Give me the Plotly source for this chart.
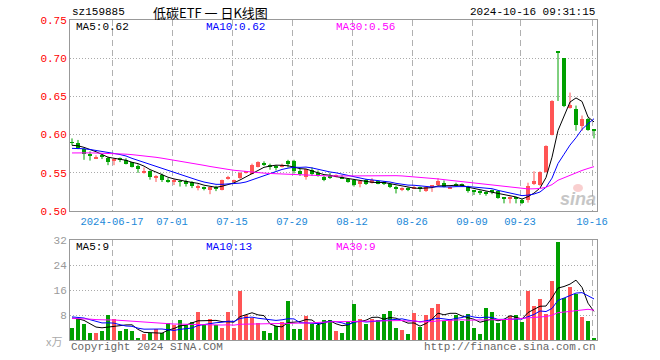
import math
import numpy as np
import pandas as pd
import plotly.graph_objects as go

# ---------------- data ----------------
dates = ["2024-06-05", "2024-06-06", "2024-06-07", "2024-06-11", "2024-06-12", "2024-06-13", "2024-06-14",
         "2024-06-17", "2024-06-18", "2024-06-19", "2024-06-20", "2024-06-21", "2024-06-24", "2024-06-25",
         "2024-06-26", "2024-06-27", "2024-06-28", "2024-07-01", "2024-07-02", "2024-07-03", "2024-07-04",
         "2024-07-05", "2024-07-08", "2024-07-09", "2024-07-10", "2024-07-11", "2024-07-12", "2024-07-15",
         "2024-07-16", "2024-07-17", "2024-07-18", "2024-07-19", "2024-07-22", "2024-07-23", "2024-07-24",
         "2024-07-25", "2024-07-26", "2024-07-29", "2024-07-30", "2024-07-31", "2024-08-01", "2024-08-02",
         "2024-08-05", "2024-08-06", "2024-08-07", "2024-08-08", "2024-08-09", "2024-08-12", "2024-08-13",
         "2024-08-14", "2024-08-15", "2024-08-16", "2024-08-19", "2024-08-20", "2024-08-21", "2024-08-22",
         "2024-08-23", "2024-08-26", "2024-08-27", "2024-08-28", "2024-08-29", "2024-08-30", "2024-09-02",
         "2024-09-03", "2024-09-04", "2024-09-05", "2024-09-06", "2024-09-09", "2024-09-10", "2024-09-11",
         "2024-09-12", "2024-09-13", "2024-09-18", "2024-09-19", "2024-09-20", "2024-09-23", "2024-09-24",
         "2024-09-25", "2024-09-26", "2024-09-27", "2024-09-30", "2024-10-08", "2024-10-09", "2024-10-10",
         "2024-10-11", "2024-10-14", "2024-10-15", "2024-10-16"]

open_ = [0.590, 0.589, 0.581, 0.574, 0.569, 0.572, 0.570, 0.565, 0.568, 0.567,
         0.564, 0.559, 0.551, 0.552, 0.543, 0.547, 0.541, 0.538, 0.539, 0.539,
         0.538, 0.531, 0.530, 0.528, 0.530, 0.528, 0.543, 0.538, 0.543, 0.550,
         0.549, 0.557, 0.562, 0.559, 0.558, 0.558, 0.565, 0.566, 0.553, 0.545,
         0.554, 0.550, 0.544, 0.546, 0.545, 0.545, 0.542, 0.541, 0.535, 0.540,
         0.537, 0.539, 0.538, 0.535, 0.530, 0.527, 0.530, 0.530, 0.530, 0.526,
         0.532, 0.534, 0.537, 0.530, 0.535, 0.535, 0.532, 0.526, 0.525, 0.524,
         0.527, 0.526, 0.517, 0.517, 0.517, 0.515, 0.515, 0.535, 0.534, 0.551,
         0.600, 0.709, 0.700, 0.635, 0.633, 0.611, 0.621, 0.606]
high = [0.595, 0.593, 0.582, 0.578, 0.573, 0.574, 0.571, 0.569, 0.570, 0.569,
        0.564, 0.561, 0.557, 0.553, 0.547, 0.549, 0.543, 0.542, 0.541, 0.541,
        0.539, 0.535, 0.532, 0.532, 0.533, 0.541, 0.546, 0.541, 0.551, 0.552,
        0.562, 0.565, 0.565, 0.562, 0.560, 0.562, 0.567, 0.567, 0.555, 0.555,
        0.557, 0.553, 0.546, 0.550, 0.548, 0.547, 0.543, 0.542, 0.540, 0.542,
        0.543, 0.540, 0.539, 0.536, 0.533, 0.531, 0.531, 0.533, 0.532, 0.532,
        0.534, 0.543, 0.540, 0.532, 0.537, 0.536, 0.533, 0.526, 0.527, 0.526,
        0.528, 0.527, 0.518, 0.519, 0.517, 0.516, 0.537, 0.552, 0.552, 0.586,
        0.645, 0.709, 0.700, 0.655, 0.638, 0.625, 0.622, 0.606]
low = [0.586, 0.581, 0.567, 0.566, 0.568, 0.568, 0.560, 0.560, 0.564, 0.561,
       0.557, 0.550, 0.549, 0.541, 0.538, 0.538, 0.537, 0.534, 0.532, 0.532,
       0.530, 0.527, 0.527, 0.522, 0.526, 0.527, 0.541, 0.537, 0.542, 0.549,
       0.548, 0.557, 0.559, 0.554, 0.553, 0.557, 0.557, 0.549, 0.546, 0.541,
       0.546, 0.545, 0.539, 0.542, 0.544, 0.542, 0.537, 0.532, 0.531, 0.534,
       0.536, 0.535, 0.534, 0.530, 0.523, 0.526, 0.526, 0.529, 0.525, 0.525,
       0.525, 0.533, 0.531, 0.529, 0.532, 0.532, 0.524, 0.521, 0.521, 0.520,
       0.522, 0.516, 0.510, 0.510, 0.510, 0.509, 0.511, 0.534, 0.533, 0.550,
       0.599, 0.644, 0.636, 0.634, 0.605, 0.605, 0.605, 0.595]
close = [0.589, 0.582, 0.575, 0.572, 0.570, 0.571, 0.564, 0.568, 0.567, 0.562,
         0.558, 0.555, 0.552, 0.544, 0.546, 0.540, 0.539, 0.541, 0.538, 0.536,
         0.533, 0.533, 0.529, 0.531, 0.529, 0.540, 0.544, 0.540, 0.550, 0.551,
         0.560, 0.564, 0.561, 0.558, 0.557, 0.559, 0.561, 0.552, 0.548, 0.555,
         0.549, 0.546, 0.540, 0.544, 0.546, 0.543, 0.538, 0.534, 0.539, 0.536,
         0.541, 0.536, 0.535, 0.531, 0.529, 0.530, 0.528, 0.532, 0.529, 0.531,
         0.533, 0.539, 0.532, 0.531, 0.534, 0.533, 0.526, 0.525, 0.524, 0.523,
         0.525, 0.517, 0.516, 0.518, 0.516, 0.511, 0.533, 0.539, 0.551, 0.585,
         0.644, 0.708, 0.637, 0.639, 0.612, 0.621, 0.606, 0.605]
volume = [4.0, 6.7, 5.2, 2.4, 2.4, 2.8, 8.1, 6.8, 2.8, 3.6,
          3.0, 0.8, 2.0, 2.2, 3.5, 2.4, 5.6, 4.7, 6.3, 4.9,
          5.9, 8.9, 4.9, 6.8, 4.9, 4.0, 8.9, 4.0, 15.6, 8.1,
          7.0, 5.5, 2.8, 2.4, 4.4, 5.9, 12.4, 3.4, 3.4, 7.6,
          5.2, 4.9, 6.5, 6.5, 2.8, 2.2, 6.2, 11.6, 6.7, 5.0,
          6.7, 6.5, 8.4, 9.4, 3.9, 3.3, 2.0, 8.7, 4.3, 8.1,
          10.3, 11.6, 6.0, 6.7, 8.1, 6.0, 8.4, 3.9, 2.0, 10.3,
          9.0, 5.5, 6.3, 7.8, 8.1, 5.9, 15.8, 11.0, 13.2, 8.4,
          19.0, 31.5, 13.5, 17.0, 14.8, 7.4, 6.2, 0.4]

# moving-average values shown at the first day (history before the window)
ma_start = {5: 0.586, 10: 0.582, 30: 0.576}
vol_ma_start = {5: 7.0, 10: 7.4, 30: 6.9}

tick_dates = ["2024-06-17", "2024-07-01", "2024-07-15", "2024-07-29", "2024-08-12",
              "2024-08-26", "2024-09-09", "2024-09-23", "2024-10-16"]
price_ticks = [0.50, 0.55, 0.60, 0.65, 0.70, 0.75]
volume_ticks = [8, 16, 24, 32]

code = "sz159885"
name = "低碳ETF 一 日K线图"
stamp = "2024-10-16 09:31:15"

# ---------------- helpers ----------------
RED = "#ff5555"
GREEN = "#00a000"
MONO = "Liberation Mono, DejaVu Sans Mono, monospace"
n = len(dates)
x = np.arange(n)
o = np.array(open_); h = np.array(high); l = np.array(low); c = np.array(close)
v = np.array(volume)


def seeded_ma(vals, win, start):
    vals = list(vals)
    prior = (win * start - vals[0]) / (win - 1)
    ext = pd.Series([prior] * (win - 1) + vals)
    return ext.rolling(win).mean().iloc[win - 1:].to_numpy()


up = c >= o
fig = go.Figure()

# wicks
for mask, col in ((up, RED), (~up, GREEN)):
    wx, wy = [], []
    for i in x[mask]:
        wx += [i, i, None]
        wy += [l[i], h[i], None]
    fig.add_trace(go.Scatter(x=wx, y=wy, mode="lines", line=dict(color=col, width=1),
                             hoverinfo="skip", showlegend=False, xaxis="x", yaxis="y"))

# bodies
body_base = np.minimum(o, c)
body_h = np.maximum(np.abs(c - o), 0.0012)
fig.add_trace(go.Bar(x=x, y=body_h, base=body_base, width=0.8,
                     marker=dict(color=[RED if u else GREEN for u in up], line=dict(width=0)),
                     showlegend=False, xaxis="x", yaxis="y"))

# price MAs
ma_cols = {5: "#000000", 10: "#0000ff", 30: "#ff00ff"}
ma_vals = {}
for win, col in ma_cols.items():
    m = seeded_ma(c, win, ma_start[win])
    ma_vals[win] = m
    fig.add_trace(go.Scatter(x=x, y=m, mode="lines", line=dict(color=col, width=1),
                             showlegend=False, xaxis="x", yaxis="y"))

# volume bars
fig.add_trace(go.Bar(x=x, y=v, width=0.8,
                     marker=dict(color=[RED if u else GREEN for u in up], line=dict(width=0)),
                     showlegend=False, xaxis="x2", yaxis="y2"))
vol_ma = {}
for win, col in ma_cols.items():
    m = seeded_ma(v, win, vol_ma_start[win])
    vol_ma[win] = m
    fig.add_trace(go.Scatter(x=x, y=m, mode="lines", line=dict(color=col, width=1),
                             showlegend=False, xaxis="x2", yaxis="y2"))

tickpos = [dates.index(d) - 1 / 3 for d in tick_dates]
ticktext = [tick_dates[0]] + [d[5:] for d in tick_dates[1:]]

common_x = dict(range=[-1 / 3, n - 0.5], showline=True, mirror=True, linecolor="#999999",
                linewidth=1, tickmode="array", tickvals=tickpos, showgrid=True,
                gridcolor="#b0b0b0", griddash="6px,4px", gridwidth=1, ticks="", zeroline=False)

fig.update_layout(
    width=660, height=360,
    margin=dict(l=70, r=63, t=20, b=20),
    paper_bgcolor="white", plot_bgcolor="white",
    bargap=0, showlegend=False,
    xaxis=dict(**common_x, anchor="y", ticktext=ticktext,
               tickfont=dict(family=MONO, size=10.5, color="#1a88d8")),
    xaxis2=dict(**common_x, anchor="y2", matches="x", showticklabels=False),
    yaxis=dict(domain=[129 / 320, 1], range=[0.5, 0.75], showline=True, mirror=True,
               linecolor="#999999", linewidth=1, tickmode="array", tickvals=price_ticks,
               ticktext=[f"{t:.2f}" for t in price_ticks], ticks="",
               tickfont=dict(family=MONO, size=11, color="#ff0000"),
               showgrid=True, gridcolor="#aaaaaa", griddash="1px,2px", zeroline=False),
    yaxis2=dict(domain=[0, 100 / 320], range=[0, 32], showline=True, mirror=True,
                linecolor="#999999", linewidth=1, tickmode="array", tickvals=volume_ticks,
                ticktext=[str(t) for t in volume_ticks], ticks="",
                tickfont=dict(family=MONO, size=11, color="#999999"),
                showgrid=True, gridcolor="#aaaaaa", griddash="1px,2px", zeroline=False),
)


def px_x(p):
    return (p - 70) / 527


def px_y(p):
    return (340 - p) / 320


def note(text, xp, yp, color="#000000", anchor="left", size=11, family=MONO, **kw):
    fig.add_annotation(text=text, x=px_x(xp), y=px_y(yp), xref="paper", yref="paper",
                       xanchor=anchor, yanchor="middle", showarrow=False,
                       font=dict(family=family, size=size, color=color), **kw)


note(code, 70, 12)
note(name, 210, 12, anchor="center", size=13, family="Noto Sans CJK SC")
note(stamp, 597, 12, anchor="right")

note(f"MA5:{ma_vals[5][-1]:.2f}", 74, 27)
note(f"MA10:{ma_vals[10][-1]:.2f}", 204, 27, color="#0000ff")
note(f"MA30:{ma_vals[30][-1]:.2f}", 334, 27, color="#ff00ff")
note(f"MA5:{math.floor(vol_ma[5][-1])}", 74, 247)
note(f"MA10:{math.floor(vol_ma[10][-1])}", 204, 247, color="#0000ff")
note(f"MA30:{math.floor(vol_ma[30][-1])}", 334, 247, color="#ff00ff")

note("Copyright 2024 SINA.COM", 69, 347, color="#666666")
note("http://finance.sina.com.cn", 598, 347, color="#666666", anchor="right")
note("x万", 64, 341, color="#aaaaaa", anchor="right", size=11, family="Noto Sans CJK SC")
note("<i><b>sina</b></i>", 598, 199, color="#999999", anchor="right", size=18,
     family="Arial, Liberation Sans", opacity=0.55)
# faint logo mark above the watermark
fig.add_shape(type="circle", xref="paper", yref="paper",
              x0=px_x(573), x1=px_x(583), y0=px_y(192), y1=px_y(184),
              fillcolor="#f4a0a0", line=dict(width=0), opacity=0.5, layer="below")

fig.write_html("out.html", config={"displayModeBar": False},
               post_script="document.body.style.margin='0';")
